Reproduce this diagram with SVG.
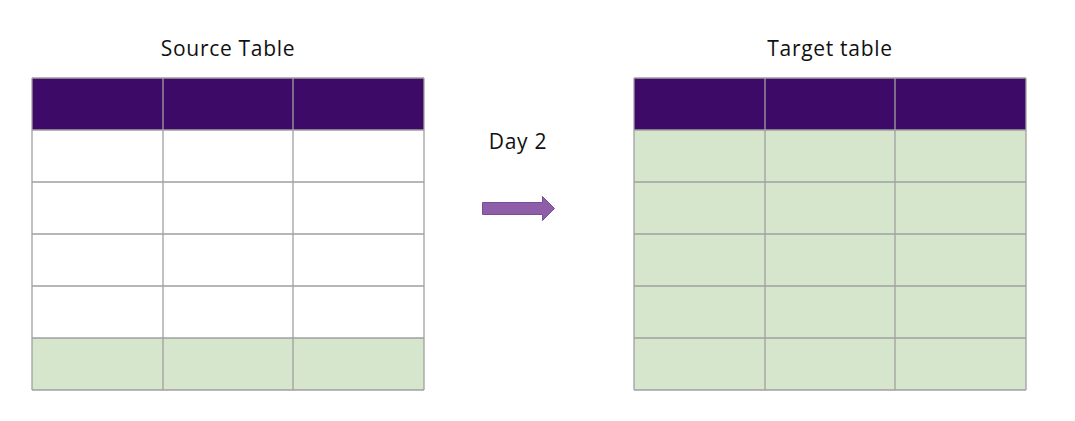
<svg xmlns="http://www.w3.org/2000/svg" width="1075" height="421" viewBox="0 0 1075 421">
<style>
.t{font-family:"Open Sans","DejaVu Sans",sans-serif;font-size:21px;letter-spacing:0.7px;fill:#111;text-anchor:middle}
.h{fill:#3d0a67}
.g{fill:#d5e6cc}
.w{fill:#ffffff}
.grid{stroke:#a0a0a0;stroke-width:1.3;fill:none}
</style>
<rect width="1075" height="421" fill="#fff"/>
<g id="source-table">
<text class="t" x="228" y="56">Source Table</text>
<rect class="h" x="32" y="78" width="392" height="52"/>
<rect class="w" x="32" y="130" width="392" height="208"/>
<rect class="g" x="32" y="338" width="392" height="52"/>
<path class="grid" d="M32 78H424M32 130H424M32 182H424M32 234H424M32 286H424M32 338H424M32 390H424M32 78V390M163 78V390M293 78V390M424 78V390"/>
</g>
<g id="target-table">
<text class="t" x="830" y="56">Target table</text>
<rect class="h" x="634" y="78" width="392" height="52"/>
<rect class="g" x="634" y="130" width="392" height="260"/>
<path class="grid" d="M634 78H1026M634 130H1026M634 182H1026M634 234H1026M634 286H1026M634 338H1026M634 390H1026M634 78V390M765 78V390M895 78V390M1026 78V390"/>
</g>
<g id="connectors">
<text class="t" x="518" y="149">Day 2</text>
<path d="M482.5 202.5H542.5V196.5L554.5 208.5L542.5 220.5V214.5H482.5Z" fill="#8e5ea8" stroke="#7a4c96" stroke-width="1"/>
</g>
</svg>
